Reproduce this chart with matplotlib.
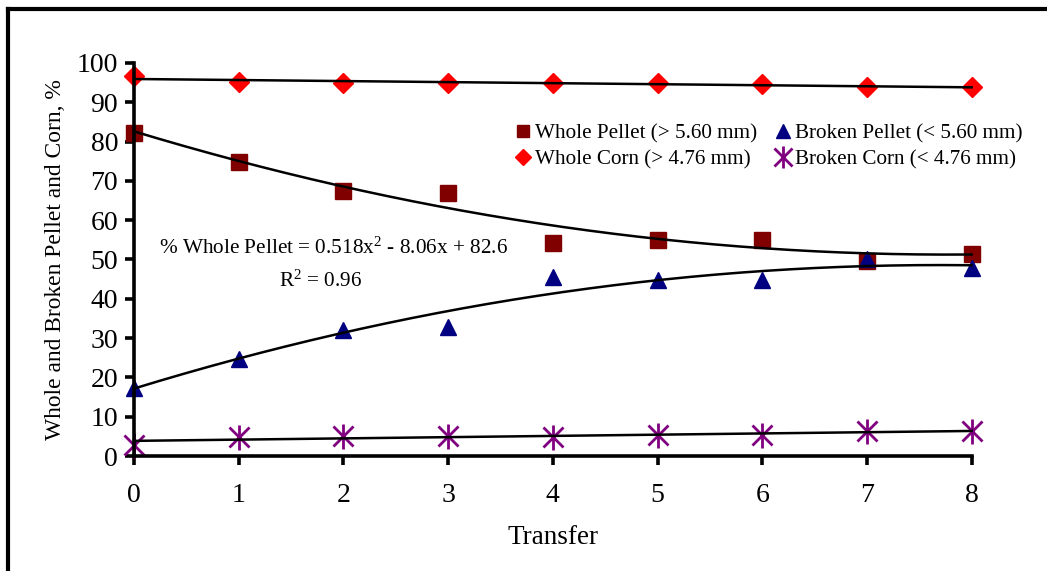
import numpy as np
import matplotlib
matplotlib.use("Agg")
import matplotlib.pyplot as plt
from matplotlib.lines import Line2D
from matplotlib.legend_handler import HandlerTuple

plt.rcParams['font.family'] = ['Liberation Serif', 'DejaVu Serif']
plt.rcParams['mathtext.fontset'] = 'custom'
plt.rcParams['mathtext.rm'] = 'Liberation Serif'
plt.rcParams['mathtext.it'] = 'Liberation Serif'

# number of transfers
transfer = [0, 1, 2, 3, 4, 5, 6, 7, 8]

# percent of sample in each fraction
whole_pellet = [82.3, 74.9, 67.5, 67.0, 54.2, 55.0, 55.0, 49.6, 51.5]
broken_pellet = [17.4, 24.8, 32.1, 32.8, 45.6, 44.7, 44.7, 50.2, 47.9]
whole_corn = [96.8, 95.1, 94.8, 94.9, 95.0, 94.8, 94.7, 93.9, 93.8]
broken_corn = [2.9, 4.9, 5.0, 5.0, 4.9, 5.3, 5.4, 6.3, 6.3]

# fitted quadratic for whole pellet
pellet_coef = [0.518, -8.06, 82.6]
pellet_r2 = 0.96

fig = plt.figure(figsize=(10.47, 5.71), dpi=100)
ax = fig.add_axes([0.128, 0.2014, 0.8, 0.6883])

x = np.array(transfer, dtype=float)
xs = np.linspace(0, 8, 200)

# trend lines
ax.plot(xs, np.polyval(pellet_coef, xs), color='black', lw=1.8, zorder=3, clip_on=False)
ax.plot(xs, np.polyval(np.polyfit(x, broken_pellet, 2), xs), color='black', lw=1.8, zorder=3, clip_on=False)
ax.plot(xs, np.polyval(np.polyfit(x, whole_corn, 1), xs), color='black', lw=1.8, zorder=3, clip_on=False)
ax.plot(xs, np.polyval(np.polyfit(x, broken_corn, 1), xs), color='black', lw=1.8, zorder=3, clip_on=False)

h1, = ax.plot(x, whole_pellet, 's', color='#800000', ms=11, mec='#800000', ls='none', zorder=2, clip_on=False)
h2, = ax.plot(x, broken_pellet, '^', color='#000080', ms=12, ls='none', zorder=2, clip_on=False)
h3, = ax.plot(x, whole_corn, 'D', color='#ff0000', ms=10, ls='none', zorder=2, clip_on=False)
# asterisk = x plus vertical bar
h4a, = ax.plot(x, broken_corn, 'x', color='#800080', ms=15, mew=2, ls='none', zorder=2, clip_on=False)
h4b, = ax.plot(x, broken_corn, '|', color='#800080', ms=18, mew=2, ls='none', zorder=2, clip_on=False)

ax.set_xlim(0, 8)
ax.set_ylim(0, 100)
ax.set_xticks(range(0, 9))
ax.set_yticks(range(0, 101, 10))

for side in ['top', 'right']:
    ax.spines[side].set_visible(False)
for side in ['left', 'bottom']:
    ax.spines[side].set_linewidth(2.6)
ax.tick_params(axis='both', direction='out', length=6.5, width=2.6, labelsize=20)
ax.tick_params(axis='x', pad=13)
ax.tick_params(axis='y', pad=5)

ax.set_xlabel('Transfer', fontsize=19.5, labelpad=12)
ax.set_ylabel('Whole and Broken Pellet and Corn, %', fontsize=16.9, labelpad=8)

ax.text(1.91, 52.8, '%% Whole Pellet = %.3fx$^2$ - %.2fx + %.1f'
        % (pellet_coef[0], -pellet_coef[1], pellet_coef[2]),
        ha='center', va='center', fontsize=15.3)
ax.text(1.78, 44.4, 'R$^2$ = %.2f' % pellet_r2, ha='center', va='center', fontsize=15.3)

leg = ax.legend([h1, h3, h2, (h4a, h4b)],
                ['Whole Pellet (> 5.60 mm)', 'Whole Corn (> 4.76 mm)',
                 'Broken Pellet (< 5.60 mm)', 'Broken Corn (< 4.76 mm)'],
                ncol=2, loc='upper left', bbox_to_anchor=(0.443, 0.872),
                frameon=False, fontsize=15.2, markerscale=0.85,
                handlelength=0.7, handletextpad=0.2, columnspacing=0.9,
                labelspacing=0.28, borderpad=0,
                handler_map={tuple: HandlerTuple(ndivide=1)})

# outer border lines
fig.add_artist(Line2D([8 / 1047, 1.0], [1 - 9 / 571, 1 - 9 / 571], color='black', lw=3, transform=fig.transFigure))
fig.add_artist(Line2D([8 / 1047, 8 / 1047], [0, 1 - 9 / 571], color='black', lw=3, transform=fig.transFigure))

fig.savefig('out.png', dpi=100)
